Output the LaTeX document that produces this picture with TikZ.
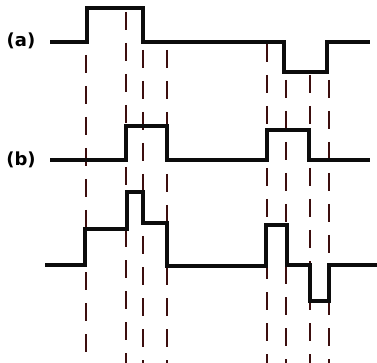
\documentclass[tikz,border=0pt]{standalone}
\usepackage{fontspec}
\setmainfont{DejaVu Sans}
\begin{document}
\begin{tikzpicture}[x=1pt,y=-1pt,
  wave/.style={line width=3.5pt, draw={rgb,255:red,12;green,12;blue,12}, line join=miter},
  guide/.style={line width=2.8pt, draw={rgb,255:red,60;green,14;blue,14}, dash pattern=on 18pt off 13pt},
  lbl/.style={font=\bfseries\fontsize{18}{18}\selectfont, inner sep=0pt}]
\useasboundingbox (0,0) rectangle (377,363);
% guide lines
\draw[guide] (86,55) -- (86,363);
\draw[guide] (126,12) -- (126,363);
\draw[guide] (143,50) -- (143,363);
\draw[guide] (167,50) -- (167,363);
\draw[guide] (267,44) -- (267,363);
\draw[guide] (286,80) -- (286,363);
\draw[guide] (310,75) -- (310,363);
\draw[guide] (329,80) -- (329,363);
% waveforms
\draw[wave] (50,42) -- (87,42) -- (87,8) -- (143,8) -- (143,42) -- (284,42) -- (284,72) -- (327,72) -- (327,42) -- (370,42);
\draw[wave] (50,160) -- (126,160) -- (126,126) -- (167,126) -- (167,160) -- (267,160) -- (267,130) -- (309,130) -- (309,160) -- (370,160);
\draw[wave] (45,265) -- (85,265) -- (85,229) -- (127,229) -- (127,192) -- (143,192) -- (143,223) -- (167,223) -- (167,266) -- (266,266) -- (266,225) -- (287,225) -- (287,265) -- (310,265) -- (310,301) -- (329,301) -- (329,265) -- (377,265);
% labels
\node[lbl] (la) at (21,41) {(a)};
\node[lbl] (lb) at (21,160) {(b)};
\end{tikzpicture}
\end{document}
